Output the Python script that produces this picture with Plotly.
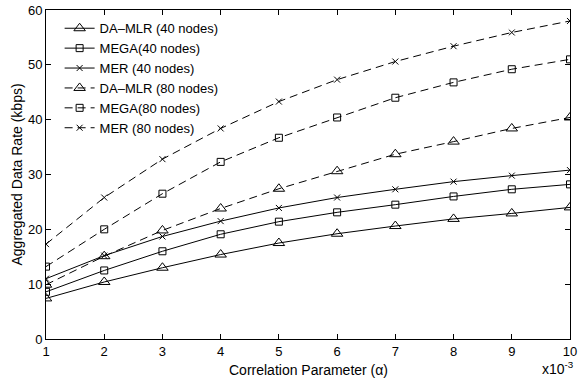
import plotly.graph_objects as go

alpha = [1, 2, 3, 4, 5, 6, 7, 8, 9, 10]
da_mlr_40 = [7.4, 10.4, 13.0, 15.4, 17.5, 19.2, 20.6, 21.9, 22.9, 24.0]
mega_40 = [8.6, 12.5, 16.0, 19.1, 21.4, 23.1, 24.5, 26.0, 27.3, 28.2]
mer_40 = [11.0, 15.2, 18.7, 21.5, 23.9, 25.8, 27.3, 28.7, 29.8, 30.8]
da_mlr_80 = [9.9, 15.1, 19.8, 23.8, 27.4, 30.6, 33.7, 36.0, 38.4, 40.4]
mega_80 = [13.2, 20.0, 26.5, 32.3, 36.7, 40.4, 44.0, 46.8, 49.2, 51.0]
mer_80 = [17.3, 25.8, 32.8, 38.4, 43.3, 47.3, 50.6, 53.4, 55.9, 58.0]
y_ticks = [0, 10, 20, 30, 40, 50, 60]

series = [
    ("DA\u2013MLR (40 nodes)", da_mlr_40, "triangle-up-open", "solid", 10),
    ("MEGA(40 nodes)", mega_40, "square-open", "solid", 7),
    ("MER (40 nodes)", mer_40, "x-thin-open", "solid", 6),
    ("DA\u2013MLR (80 nodes)", da_mlr_80, "triangle-up-open", "8px,5px", 10),
    ("MEGA(80 nodes)", mega_80, "square-open", "8px,5px", 7),
    ("MER (80 nodes)", mer_80, "x-thin-open", "8px,5px", 6),
]

FONT = "Liberation Sans, Arial, sans-serif"

fig = go.Figure()
for name, ys, sym, dash, sz in series:
    fig.add_trace(go.Scatter(
        x=alpha, y=ys, name=name, mode="lines+markers",
        line=dict(color="black", width=1, dash=dash),
        marker=dict(symbol=sym, size=sz, color="black",
                    line=dict(color="black", width=1)),
    ))

axis_common = dict(
    showline=True, linecolor="black", linewidth=1, mirror="allticks",
    ticks="inside", ticklen=5, tickcolor="black", showgrid=False, zeroline=False,
    automargin=False,
    tickfont=dict(family=FONT, size=13, color="black"),
)
fig.update_xaxes(range=[1, 10], tickvals=alpha, ticktext=[str(a) for a in alpha],
                 **axis_common)
fig.update_yaxes(range=[0, 60], tickvals=y_ticks, ticktext=[str(v) for v in y_ticks],
                 **axis_common)

fig.add_annotation(x=0.5, y=0, xref="paper", yref="paper", xanchor="center", yanchor="middle",
                   yshift=-31, showarrow=False, text="Correlation Parameter (\u03b1)",
                   font=dict(family=FONT, size=14, color="black"))
fig.add_annotation(x=0, y=0.5, xref="paper", yref="paper", xanchor="center", yanchor="middle",
                   xshift=-30, showarrow=False, textangle=-90,
                   text="Aggregated Data Rate (kbps)",
                   font=dict(family=FONT, size=14, color="black"))
fig.add_annotation(x=1.0, y=0, xref="paper", yref="paper", xanchor="right", yanchor="top",
                   yshift=-18, xshift=6, showarrow=False,
                   text="x10<sup>-3</sup>",
                   font=dict(family=FONT, size=14, color="black"))

fig.update_layout(
    width=578, height=386,
    margin=dict(l=46, r=8, t=10, b=47),
    plot_bgcolor="white", paper_bgcolor="white",
    showlegend=True,
    legend=dict(x=0.026, y=0.99, xanchor="left", yanchor="top",
                bgcolor="rgba(0,0,0,0)", borderwidth=0,
                font=dict(family=FONT, size=13, color="black"),
                tracegroupgap=0),
)

fig.write_html("out.html", config={"displayModeBar": False},
               post_script="document.body.style.margin='0';document.body.style.padding='0';")
